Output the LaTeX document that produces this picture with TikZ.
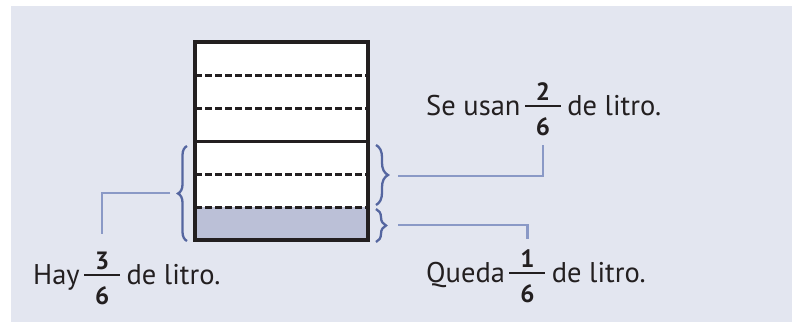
\documentclass[tikz,border=0pt]{standalone}
\usepackage{fontspec}
\setmainfont{PT Sans}
\usetikzlibrary{decorations.pathreplacing,calc}
\definecolor{bgc}{HTML}{E3E6F0}
\definecolor{fillc}{HTML}{BBC0D7}
\definecolor{bracec}{HTML}{5566A0}
\definecolor{connc}{HTML}{8A99C6}
\definecolor{inkc}{HTML}{231F20}
\tikzset{
  txt/.style={font=\fontsize{28.5}{30}\selectfont, text=inkc, inner sep=0pt, anchor=base west},
  digit/.style={font=\fontsize{25}{26}\selectfont\bfseries, text=inkc, inner sep=0pt, anchor=base},
  fbar/.style={fill=inkc, minimum width=36pt, minimum height=2.4pt, inner sep=0pt, anchor=west},
  brc/.style={draw=bracec, line width=2.3pt, decorate},
  conn/.style={draw=connc, line width=2.2pt},
  dashrow/.style={draw=inkc, line width=3pt, dash pattern=on 6.5pt off 3.5pt},
}
\begin{document}
\begin{tikzpicture}[x=1pt,y=-1pt]
\useasboundingbox (0,0) rectangle (792,322);
\fill[bgc] (11,6) rectangle (792,322);
% container
\fill[white] (195,42) rectangle (368,240);
\fill[fillc] (195,207) rectangle (368,240);
\foreach \yy in {75,108,174,207} \draw[dashrow] (195,\yy) -- (368,\yy);
\draw[inkc, line width=3pt] (195,141) -- (368,141);
\draw[inkc, line width=3.2pt] (195,42) rectangle (368,240);
% braces
\draw[brc, decoration={brace,amplitude=9pt}] (187,241) -- (187,146);
\draw[brc, decoration={brace,amplitude=12pt}] (376,145) -- (376,205);
\draw[brc, decoration={brace,amplitude=10pt}] (376,209) -- (376,242);
\coordinate (lb) at (170,193);
\coordinate (ub) at (398,176);
\coordinate (db) at (398,225);
% Se usan
\node[txt] (su) at (426,115) {Se usan};
\node[fbar] (sbar) at ($(su.base east)+(4,-9)$) {};
\node[digit] (sn) at ($(sbar.center)+(0,-6)$) {2};
\node[digit] (sd) at ($(sbar.center)+(0,29)$) {6};
\node[txt] (sl) at ($(sbar.east)+(6,9)$) {de litro.};
% Queda
\node[txt] (qu) at (426,282) {Queda};
\node[fbar] (qbar) at ($(qu.base east)+(4,-9)$) {};
\node[digit] (qn) at ($(qbar.center)+(0,-6)$) {1};
\node[digit] (qd) at ($(qbar.center)+(0,29)$) {6};
\node[txt] (ql) at ($(qbar.east)+(6,9)$) {de litro.};
% Hay
\node[txt] (ha) at (33,284) {Hay};
\node[fbar] (hbar) at ($(ha.base east)+(4,-9)$) {};
\node[digit] (hn) at ($(hbar.center)+(0,-6)$) {3};
\node[digit] (hd) at ($(hbar.center)+(0,29)$) {6};
\node[txt] (hl) at ($(hbar.east)+(6,9)$) {de litro.};
% connectors
\draw[conn] (lb) -| ($(hn.north)+(0,-17)$);
\draw[conn] (ub) -| ($(sd.south)+(0,9)$);
\draw[conn] (db) -| ($(qn.north)+(0,-10)$);
\end{tikzpicture}
\end{document}
